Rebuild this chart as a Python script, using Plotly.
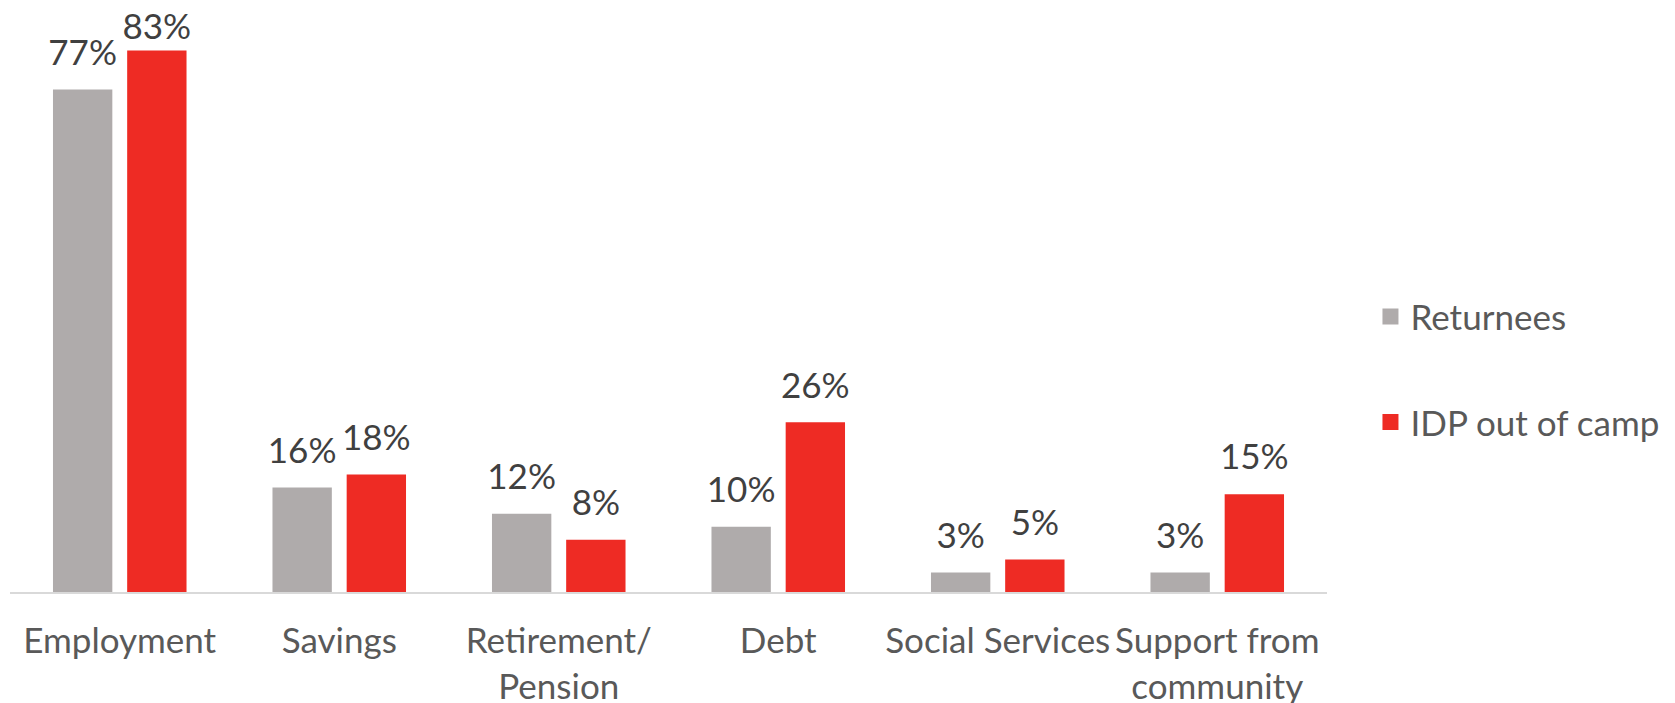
import plotly.graph_objects as go

categories = ["Employment", "Savings", "Retirement/<br>Pension", "Debt", "Social Services", "Support from<br>community"]
returnees = [77, 16, 12, 10, 3, 3]
idp_out_of_camp = [83, 18, 8, 26, 5, 15]
series_names = ["Returnees", "IDP out of camp"]
colors = ["#AFABAB", "#EE2B24"]

FONT = "Lato, 'Open Sans', sans-serif"
GAP = 0.324
YMAX = 89.35

fig = go.Figure()
for i, (name, vals) in enumerate(zip(series_names, [returnees, idp_out_of_camp])):
    fig.add_trace(go.Bar(
        x=categories, y=vals, name=name,
        marker=dict(color=colors[i], line=dict(width=0)),
        showlegend=False, legendgroup=name, hoverinfo="skip",
    ))
for i, (name, vals) in enumerate(zip(series_names, [returnees, idp_out_of_camp])):
    # labels that would overflow the top of the chart sit closer to their bar
    sizes = [2 if v > YMAX - 8 else 24 for v in vals]
    fig.add_trace(go.Scatter(
        x=categories, y=vals, name=name, mode="markers+text",
        marker=dict(size=sizes, opacity=0),
        text=[f"{v}%" for v in vals], textposition="top center",
        textfont=dict(size=35, color="#404040", family=FONT),
        cliponaxis=False, showlegend=False, legendgroup=name,
    ))
# legend entries
for i, name in enumerate(series_names):
    fig.add_trace(go.Scatter(
        x=[None], y=[None], name=name, mode="markers", xaxis="x2",
        marker=dict(symbol="square", size=18, color=colors[i]),
        legendgroup=name, showlegend=True,
    ))

fig.update_layout(
    width=1675, height=703,
    margin=dict(l=2, r=356, t=1, b=119),
    paper_bgcolor="white", plot_bgcolor="white",
    barmode="group", bargap=GAP, bargroupgap=0.2,
    scattermode="group", scattergap=GAP,
    font=dict(family=FONT, size=35, color="#595959"),
    showlegend=True,
    legend=dict(x=1.033, xanchor="left", y=0.382, yanchor="middle",
                traceorder="grouped", tracegroupgap=57, itemsizing="trace",
                font=dict(size=35, color="#595959", family=FONT)),
    xaxis=dict(showline=True, linecolor="#D9D9D9", linewidth=2, ticks="",
               tickfont=dict(size=35, color="#595959", family=FONT), tickangle=0,
               ticklabelstandoff=17),
    xaxis2=dict(overlaying="x", visible=False),
    yaxis=dict(range=[0, YMAX], visible=False, showgrid=False, zeroline=False),
)

fig.write_html("out.html")
